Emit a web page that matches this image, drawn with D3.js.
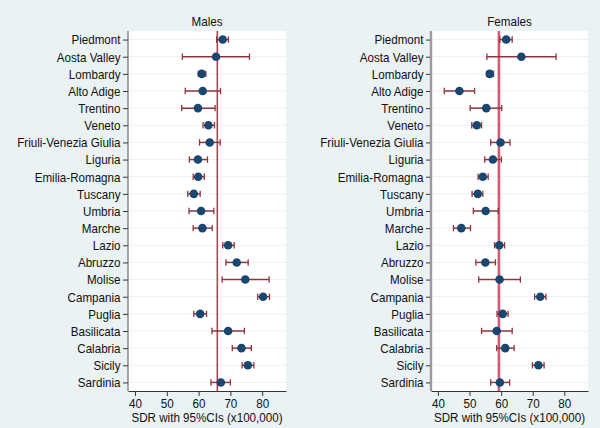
<!DOCTYPE html>
<html>
<head>
<meta charset="utf-8">
<script src="https://cdn.jsdelivr.net/npm/d3@7"></script>
<style>
  html, body { margin: 0; padding: 0; background: #eaf2f3; }
  svg { display: block; font-family: "Liberation Sans", Arial, Helvetica, sans-serif; }
</style>
</head>
<body>
<svg id="chart" width="600" height="428"></svg>
<script>
const regions = ["Piedmont","Aosta Valley","Lombardy","Alto Adige","Trentino","Veneto",
  "Friuli-Venezia Giulia","Liguria","Emilia-Romagna","Tuscany","Umbria","Marche","Lazio",
  "Abruzzo","Molise","Campania","Puglia","Basilicata","Calabria","Sicily","Sardinia"];

const malesSDR   = [67.6,65.5,61.0,61.3,59.8,63.1,63.5,59.8,59.9,58.5,60.8,61.2,69.3,72.0,74.7,80.3,60.5,69.3,73.5,75.5,67.0];
const malesLow   = [65.7,54.9,59.9,55.8,54.7,61.4,60.3,57.1,58.3,56.6,57.0,58.3,67.6,68.6,67.4,78.6,58.5,64.2,70.6,73.7,63.9];
const malesHigh  = [69.4,76.0,62.3,66.9,65.2,65.0,66.8,62.8,61.8,60.5,64.8,64.3,71.2,75.6,82.2,82.3,62.5,74.4,76.6,77.4,70.0];
const malesRef   = 65.9;

const femalesSDR  = [61.6,66.4,56.4,46.8,55.3,52.3,59.8,57.4,54.2,52.6,55.1,47.4,59.4,55.0,59.5,72.4,60.5,58.6,61.3,71.8,59.6];
const femalesLow  = [59.6,55.5,55.4,42.0,50.2,50.7,56.7,54.8,52.7,50.8,51.2,44.9,57.9,52.0,52.9,70.6,58.7,53.8,58.6,69.9,56.7];
const femalesHigh = [63.5,77.4,57.6,51.6,60.2,53.8,62.8,60.1,55.9,54.2,59.1,50.3,61.1,58.2,66.1,74.2,62.2,63.5,64.1,73.6,62.7];
const femalesRef  = 59.3;

const xTicks = [40,50,60,70,80];
const xDomain = [37.8, 87.5];
const panelTitles = ["Males","Females"];
const axisTitle = "SDR with 95%CIs (x100,000)";

const FS = 13.6;
const SX = 0.855;

const svg = d3.select("#chart");
svg.append("rect").attr("width",600).attr("height",428).attr("fill","#eaf2f3");

const panels = [
  {title: panelTitles[0], sdr: malesSDR, lo: malesLow, hi: malesHigh, ref: malesRef,
   x0: 128, x1: 286, refColor: "#c3394f", refW: 1.6, axColor: "#555", axW: 1},
  {title: panelTitles[1], sdr: femalesSDR, lo: femalesLow, hi: femalesHigh, ref: femalesRef,
   x0: 431, x1: 588, refColor: "#d65a73", refW: 2.6, axColor: "#9a9a9a", axW: 2.4}
];

const plotTop = 31, plotBottom = 391;
const y = d3.scalePoint().domain(regions).range([plotTop, plotBottom]).padding(0.5);

function condense(sel) {
  sel.each(function() {
    const t = d3.select(this);
    const x = +t.attr("x") || 0;
    t.attr("x", x / SX).attr("transform", `scale(${SX},1)`)
     .attr("font-size", FS + "px").attr("fill", "#111")
     .style("font-family", "'Liberation Sans', Arial, sans-serif");
  });
}

function label(g, cx, by, txt) {
  g.append("text").attr("transform", `translate(${cx},${by}) scale(${SX},1)`)
    .attr("text-anchor", "middle").attr("font-size", FS + "px").attr("fill", "#111")
    .text(txt);
}

panels.forEach(p => {
  const x = d3.scaleLinear().domain(xDomain).range([p.x0, p.x1]);
  const g = svg.append("g");

  g.append("rect").attr("x", p.x0).attr("y", plotTop)
    .attr("width", p.x1 - p.x0).attr("height", plotBottom - plotTop).attr("fill", "#ffffff");

  g.selectAll(".grid").data(regions).join("line")
    .attr("x1", p.x0).attr("x2", p.x1)
    .attr("y1", d => y(d)).attr("y2", d => y(d))
    .attr("stroke", "#eaf2f3").attr("stroke-width", 1);

  g.append("line").attr("x1", x(p.ref)).attr("x2", x(p.ref))
    .attr("y1", plotTop).attr("y2", plotBottom)
    .attr("stroke", p.refColor).attr("stroke-width", p.refW);

  const rows = regions.map((r, i) => ({r, v: p.sdr[i], lo: p.lo[i], hi: p.hi[i]}));

  g.selectAll(".ci").data(rows).join("line")
    .attr("x1", d => x(d.lo)).attr("x2", d => x(d.hi))
    .attr("y1", d => y(d.r)).attr("y2", d => y(d.r))
    .attr("stroke", "#90353b").attr("stroke-width", 1.5);
  ["lo","hi"].forEach(k => {
    g.selectAll(".cap" + k).data(rows).join("line")
      .attr("x1", d => x(d[k])).attr("x2", d => x(d[k]))
      .attr("y1", d => y(d.r) - 3.2).attr("y2", d => y(d.r) + 3.2)
      .attr("stroke", "#90353b").attr("stroke-width", 1.3);
  });

  g.selectAll(".dot").data(rows).join("circle")
    .attr("cx", d => x(d.v)).attr("cy", d => y(d.r)).attr("r", 4.3)
    .attr("fill", "#1a476f");

  const ya = g.append("g").attr("transform", `translate(${p.x0},0)`)
    .call(d3.axisLeft(y).tickSize(5).tickPadding(2.5));
  ya.select(".domain").remove();
  ya.selectAll(".tick line").attr("stroke", "#333");
  ya.selectAll(".tick text").call(condense);
  g.append("line").attr("x1", p.x0).attr("x2", p.x0).attr("y1", plotTop).attr("y2", plotBottom)
    .attr("stroke", p.axColor).attr("stroke-width", p.axW);

  const xa = g.append("g").attr("transform", `translate(0,${plotBottom})`)
    .call(d3.axisBottom(x).tickValues(xTicks).tickSize(5).tickPadding(2).tickSizeOuter(0));
  xa.select(".domain").attr("stroke", "#333");
  xa.selectAll(".tick line").attr("stroke", "#333");
  xa.selectAll(".tick text").call(condense);

  label(g, (p.x0 + p.x1) / 2, 26, p.title);
  label(g, (p.x0 + p.x1) / 2, 422, axisTitle);
});
</script>
</body>
</html>
